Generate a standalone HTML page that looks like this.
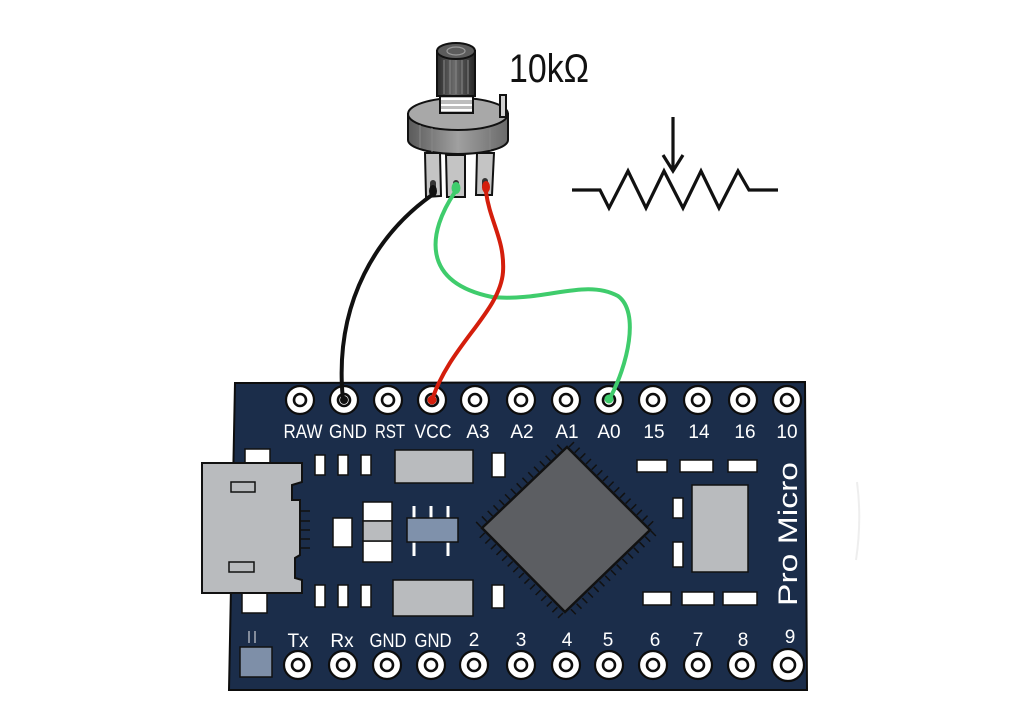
<!DOCTYPE html>
<html><head><meta charset="utf-8"><style>
html,body{margin:0;padding:0;background:#fff;}
svg{display:block;}
text{font-family:"Liberation Sans",sans-serif;}
</style></head><body>
<svg width="1024" height="716" viewBox="0 0 1024 716" xmlns="http://www.w3.org/2000/svg">
<defs>
<linearGradient id="knob" x1="0" x2="1" y1="0" y2="0">
<stop offset="0" stop-color="#2a2a2a"/><stop offset="0.45" stop-color="#6a6a6a"/><stop offset="1" stop-color="#262626"/>
</linearGradient>
<linearGradient id="side" x1="0" x2="1" y1="0" y2="0">
<stop offset="0" stop-color="#5a5a5a"/><stop offset="0.5" stop-color="#a0a0a0"/><stop offset="1" stop-color="#6a6a6a"/>
</linearGradient>
</defs>
<rect width="1024" height="716" fill="#fff"/>
<path d="M857,482 Q862,520 856,560" stroke="#eeeeee" stroke-width="2" fill="none"/>

<!-- Resistor symbol -->
<g stroke="#111" stroke-width="3.2" fill="none" stroke-linejoin="miter">
<polyline points="572,190 600,190 609,208 628,171 646,208 664,171 683,208 701,171 719,208 738,171 749,190 778,190"/>
<line x1="673" y1="117" x2="673" y2="171"/>
<polyline points="663,155 673,171 683,155"/>
</g>

<!-- 10kΩ -->
<text x="509" y="82" font-size="40" fill="#111" textLength="80" lengthAdjust="spacingAndGlyphs">10kΩ</text>

<!-- Potentiometer -->
<g stroke="#111" stroke-width="2">
<!-- legs -->
<path d="M425,153 L440,153 L441,196 L426,197 Z" fill="#c4c4c4"/>
<path d="M446,155 L465,155 L465,197 L447,197 Z" fill="#c4c4c4"/>
<path d="M477,153 L494,153 L492,195 L476,195 Z" fill="#c4c4c4"/>
<!-- body side -->
<path d="M408,114 L408,140 A50,14 0 0 0 508,140 L508,114 Z" fill="url(#side)"/>
<ellipse cx="458" cy="114" rx="50" ry="16" fill="#a8a8a8"/>
<!-- pin at right -->
<rect x="500" y="95" width="6" height="22" fill="#d0d0d0"/>
<!-- collar -->
<rect x="440" y="93" width="33" height="20" fill="#bdbdbd"/>
<!-- knob -->
<rect x="437" y="51" width="38" height="45" fill="url(#knob)"/>
<ellipse cx="456" cy="51" rx="19" ry="8" fill="#5c5c5c"/>
</g>
<g stroke="#fff" stroke-width="2">
<line x1="441" y1="99" x2="472" y2="99"/><line x1="441" y1="105" x2="472" y2="105"/><line x1="441" y1="110" x2="472" y2="110"/>
</g>
<g stroke="#888" stroke-width="1">
<line x1="444" y1="60" x2="444" y2="94"/><line x1="450" y1="60" x2="450" y2="94"/><line x1="456" y1="60" x2="456" y2="94"/><line x1="462" y1="60" x2="462" y2="94"/><line x1="468" y1="60" x2="468" y2="94"/>
<line x1="420" y1="125" x2="420" y2="148"/><line x1="432" y1="128" x2="432" y2="152"/><line x1="490" y1="128" x2="490" y2="150"/>
</g>
<ellipse cx="456" cy="51" rx="9" ry="4" fill="none" stroke="#999" stroke-width="1.2"/>
<g fill="#333"><rect x="430" y="180" width="6" height="12" rx="3"/><rect x="453" y="180" width="6" height="12" rx="3"/><rect x="482" y="178" width="6" height="12" rx="3"/></g>

<!-- Board -->
<polygon points="235,383 805,382 807,690 229,690" fill="#1b2d4a" stroke="#0d0d0d" stroke-width="2"/>

<!-- USB connector -->
<rect x="245" y="449" width="25" height="14" fill="#fff" stroke="#111" stroke-width="1.5"/>
<rect x="242" y="593" width="25" height="20" fill="#fff" stroke="#111" stroke-width="1.5"/>
<polygon points="202,463 302,463 302,482 292,485 292,500 300,500 300,555 295,558 295,578 302,580 302,593 202,593" fill="#b9bbbe" stroke="#111" stroke-width="2"/>
<rect x="231" y="482" width="24" height="10" fill="none" stroke="#111" stroke-width="1.5"/>
<rect x="229" y="562" width="25" height="10" fill="none" stroke="#111" stroke-width="1.5"/>
<g stroke="#111" stroke-width="1.5"><line x1="300" y1="511" x2="310" y2="511"/><line x1="300" y1="521" x2="310" y2="521"/><line x1="300" y1="530" x2="310" y2="530"/><line x1="300" y1="539" x2="310" y2="539"/><line x1="300" y1="548" x2="310" y2="548"/></g>

<!-- small pads -->
<g fill="#fff" stroke="#111" stroke-width="1.5">
<rect x="315" y="455" width="10" height="20"/><rect x="338" y="455" width="10" height="20"/><rect x="361" y="455" width="10" height="20"/>
<rect x="315" y="585" width="10" height="22"/><rect x="338" y="585" width="10" height="22"/><rect x="361" y="585" width="10" height="22"/>
<rect x="333" y="518" width="19" height="29"/>
<rect x="363" y="502" width="29" height="19"/><rect x="363" y="541" width="29" height="21"/>
<rect x="492" y="453" width="13" height="24"/><rect x="492" y="585" width="12" height="23"/>
<rect x="637" y="460" width="30" height="12"/><rect x="680" y="460" width="33" height="12"/><rect x="728" y="460" width="29" height="12"/>
<rect x="643" y="592" width="28" height="13"/><rect x="682" y="592" width="32" height="13"/><rect x="723" y="592" width="34" height="13"/>
<rect x="673" y="498" width="10" height="20"/><rect x="673" y="542" width="10" height="25"/>
</g>
<g fill="#b9bbbe" stroke="#111" stroke-width="1.5">
<rect x="363" y="521" width="29" height="20"/>
<rect x="395" y="450" width="78" height="33"/>
<rect x="393" y="580" width="80" height="36"/>
<rect x="692" y="485" width="56" height="87"/>
</g>
<!-- small IC -->
<g stroke="#fff" stroke-width="3"><line x1="414" y1="506" x2="414" y2="518"/><line x1="431" y1="506" x2="431" y2="518"/><line x1="448" y1="506" x2="448" y2="518"/><line x1="414" y1="542" x2="414" y2="556"/><line x1="448" y1="542" x2="448" y2="556"/></g>
<rect x="407" y="518" width="51" height="24" fill="#7f91ab" stroke="#111" stroke-width="1.5"/>
<!-- bottom-left square -->
<rect x="240" y="647" width="32" height="30" fill="#7e8fa8" stroke="#111" stroke-width="1.5"/>
<g stroke="#c9ccd2" stroke-width="1.2"><line x1="249" y1="631" x2="249" y2="643"/><line x1="255" y1="631" x2="255" y2="643"/></g>

<!-- Big chip -->
<g stroke="#111" stroke-width="7" stroke-dasharray="1.5 6.5" fill="none">
<line x1="571" y1="444" x2="654" y2="527"/>
<line x1="654" y1="533" x2="569" y2="616"/>
<line x1="561" y1="616" x2="478" y2="531"/>
<line x1="478" y1="525" x2="563" y2="444"/>
</g>
<polygon points="567,447 650,530 565,612 482,528" fill="#5c5e62" stroke="#111" stroke-width="2.5"/>

<!-- Pins -->
<g fill="#fff" stroke="#0d0d0d">
<g stroke-width="2.2">
<circle cx="300" cy="400" r="14"/><circle cx="344" cy="400" r="14"/><circle cx="388" cy="400" r="14"/><circle cx="432" cy="400" r="14"/><circle cx="475" cy="400" r="14"/><circle cx="521" cy="400" r="14"/><circle cx="566" cy="400" r="14"/><circle cx="609" cy="400" r="14"/><circle cx="653" cy="400" r="14"/><circle cx="698" cy="400" r="14"/><circle cx="743" cy="400" r="14"/><circle cx="787" cy="400" r="14"/>
<circle cx="298" cy="665" r="14"/><circle cx="343" cy="665" r="14"/><circle cx="387" cy="665" r="14"/><circle cx="431" cy="665" r="14"/><circle cx="474" cy="665" r="14"/><circle cx="521" cy="665" r="14"/><circle cx="566" cy="665" r="14"/><circle cx="609" cy="665" r="14"/><circle cx="653" cy="665" r="14"/><circle cx="698" cy="665" r="14"/><circle cx="742" cy="665" r="14"/><circle cx="788" cy="665" r="16"/>
</g>
<g stroke-width="2.6">
<circle cx="300" cy="400" r="6"/><circle cx="344" cy="400" r="6"/><circle cx="388" cy="400" r="6"/><circle cx="432" cy="400" r="6"/><circle cx="475" cy="400" r="6"/><circle cx="521" cy="400" r="6"/><circle cx="566" cy="400" r="6"/><circle cx="609" cy="400" r="6"/><circle cx="653" cy="400" r="6"/><circle cx="698" cy="400" r="6"/><circle cx="743" cy="400" r="6"/><circle cx="787" cy="400" r="6"/>
<circle cx="298" cy="665" r="6"/><circle cx="343" cy="665" r="6"/><circle cx="387" cy="665" r="6"/><circle cx="431" cy="665" r="6"/><circle cx="474" cy="665" r="6"/><circle cx="521" cy="665" r="6"/><circle cx="566" cy="665" r="6"/><circle cx="609" cy="665" r="6"/><circle cx="653" cy="665" r="6"/><circle cx="698" cy="665" r="6"/><circle cx="742" cy="665" r="6"/><circle cx="788" cy="665" r="7"/>
</g>
</g>

<!-- Labels -->
<g fill="#fff" font-size="19" text-anchor="middle">
<text x="303" y="438" textLength="39" lengthAdjust="spacingAndGlyphs">RAW</text>
<text x="348" y="438" textLength="38" lengthAdjust="spacingAndGlyphs">GND</text>
<text x="390" y="438" textLength="30" lengthAdjust="spacingAndGlyphs">RST</text>
<text x="433" y="438" textLength="37" lengthAdjust="spacingAndGlyphs">VCC</text>
<text x="478" y="438">A3</text>
<text x="522" y="438">A2</text>
<text x="567" y="438">A1</text>
<text x="609" y="438">A0</text>
<text x="654" y="438">15</text>
<text x="699" y="438">14</text>
<text x="745" y="438">16</text>
<text x="787" y="438">10</text>
<text x="298" y="647">Tx</text>
<text x="342" y="647">Rx</text>
<text x="388" y="647" textLength="37" lengthAdjust="spacingAndGlyphs">GND</text>
<text x="433" y="647" textLength="37" lengthAdjust="spacingAndGlyphs">GND</text>
<text x="474" y="646">2</text>
<text x="521" y="646">3</text>
<text x="567" y="646">4</text>
<text x="608" y="646">5</text>
<text x="655" y="646">6</text>
<text x="698" y="646">7</text>
<text x="743" y="646">8</text>
<text x="790" y="643">9</text>
</g>
<text transform="translate(797,606) rotate(-90)" fill="#fff" font-size="27" textLength="144" lengthAdjust="spacingAndGlyphs">Pro Micro</text>

<!-- Wires -->
<g fill="none" stroke-width="4" stroke-linecap="round">
<path d="M432,195 C380,232 333,300 343,400" stroke="#111"/>
<path d="M455,192 C428,232 420,282 492,297 C545,302 585,278 618,296 C640,312 628,365 609,400" stroke="#3fcc6c"/>
<path d="M486,192 C490,222 505,240 503,272 C500,312 450,345 432,400" stroke="#d41e0c"/>
</g>
<circle cx="344" cy="400" r="4" fill="#111"/>
<circle cx="432" cy="400" r="4.5" fill="#d41e0c"/>
<circle cx="609" cy="399" r="4.5" fill="#3fcc6c"/>
<ellipse cx="433" cy="191" rx="4" ry="6" fill="#111"/>
<ellipse cx="456" cy="188" rx="4.5" ry="6" fill="#3fcc6c"/>
<ellipse cx="486" cy="187" rx="4" ry="6" fill="#d41e0c"/>
</svg>
</body></html>
